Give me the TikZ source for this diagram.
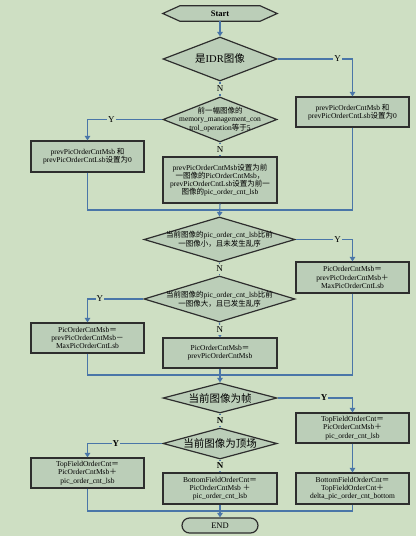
\documentclass[tikz,border=0pt]{standalone}
\usepackage{fontspec}
\setmainfont{Liberation Serif}
\newfontfamily\cjk{Noto Sans CJK SC}
\usetikzlibrary{shapes.geometric,shapes.misc,arrows.meta}
\definecolor{bgc}{HTML}{CEDFC3}
\definecolor{fillc}{HTML}{BBCEB8}
\definecolor{linec}{HTML}{4A76A8}
\definecolor{borderc}{HTML}{2E2E2E}
\newcommand{\zh}[1]{{\cjk #1}}
\begin{document}
\begin{tikzpicture}[x=1pt,y=-1pt,
 box/.style={draw=borderc, line width=1.2pt, fill=fillc, minimum width=113pt, inner sep=0pt, align=center, font=\fontsize{7.5}{8.2}\selectfont},
 dia/.style={shape=diamond, draw=borderc, line width=1.2pt, fill=fillc, inner sep=0pt},
 dtext/.style={align=center, inner sep=0pt, font=\fontsize{7.5}{7.6}\selectfont},
 conn/.style={draw=linec, line width=1.1pt},
 arr/.style={conn, -{Triangle[width=5.5pt,length=4.5pt]}},
 sarr/.style={conn, -{Triangle[width=4pt,length=3pt]}},
 lab/.style={fill=bgc, inner xsep=1pt, inner ysep=2.5pt, font=\fontsize{9}{9}\selectfont, text=black},
 blab/.style={lab, font=\fontsize{9}{9}\selectfont\bfseries},
]
\fill[bgc] (0,0) rectangle (416,536);
\useasboundingbox (0,0) rectangle (416,536);

% Start
\node[minimum width=114pt, minimum height=15pt, inner sep=0pt] (start) at (220,13.5) {};
\filldraw[draw=borderc, fill=fillc, line width=1.2pt] (start.west) -- ([xshift=17pt]start.north west) -- ([xshift=-17pt]start.north east) -- (start.east) -- ([xshift=-17pt]start.south east) -- ([xshift=17pt]start.south west) -- cycle;
\node[font=\fontsize{8.5}{8.5}\selectfont\bfseries] (startt) at (start) {Start};

% diamonds
\node[dia, minimum width=114pt, minimum height=44pt] (d1) at (220,59) {};
\node[dtext, font=\fontsize{10.5}{10.5}\selectfont] (d1t) at (d1) {\zh{是}IDR\zh{图像}};
\node[dia, minimum width=114pt, minimum height=45pt] (d2) at (220,119.5) {};
\node[dtext] (d2t) at (d2) {\zh{前一幅图像的}\\memory\_management\_con\\trol\_operation\zh{等于}5};
\node[dia, minimum width=151pt, minimum height=45pt] (d3) at (219.5,239.5) {};
\node[dtext] (d3t) at (d3) {\zh{当前图像的}pic\_order\_cnt\_lsb\zh{比前}\\\zh{一图像小，且未发生乱序}};
\node[dia, minimum width=151pt, minimum height=46pt] (d4) at (219.5,299) {};
\node[dtext] (d4t) at (d4) {\zh{当前图像的}pic\_order\_cnt\_lsb\zh{比前}\\\zh{一图像大，且已发生乱序}};
\node[dia, minimum width=114pt, minimum height=30pt] (d5) at (220,398) {};
\node[dtext, font=\fontsize{10.5}{10.5}\selectfont] (d5t) at (d5) {\zh{当前图像为帧}};
\node[dia, minimum width=114pt, minimum height=31pt] (d6) at (220,443.5) {};
\node[dtext, font=\fontsize{10.5}{10.5}\selectfont] (d6t) at (d6) {\zh{当前图像为顶场}};

% boxes
\node[box, minimum height=30pt] (rb1) at (352.5,112) {prevPicOrderCntMsb \zh{和}\\prevPicOrderCntLsb\zh{设置为}0};
\node[box, minimum height=31pt] (lb2) at (87.5,156.5) {prevPicOrderCntMsb \zh{和}\\prevPicOrderCntLsb\zh{设置为}0};
\node[box, minimum height=46pt, minimum width=114pt] (mb2) at (220,180) {prevPicOrderCntMsb\zh{设置为前}\\\zh{一图像的}PicOrderCntMsb\zh{，}\\prevPicOrderCntLsb\zh{设置为前一}\\\zh{图像的}pic\_order\_cnt\_lsb};
\node[box, minimum height=31pt] (rb3) at (352.5,277.5) {PicOrderCntMsb\zh{＝}\\prevPicOrderCntMsb\zh{＋}\\MaxPicOrderCntLsb};
\node[box, minimum height=30pt] (lb4) at (87.5,338) {PicOrderCntMsb\zh{＝}\\prevPicOrderCntMsb\zh{－}\\MaxPicOrderCntLsb};
\node[box, minimum height=30pt, minimum width=114pt] (mb4) at (220,353) {PicOrderCntMsb\zh{＝}\\prevPicOrderCntMsb};
\node[box, minimum height=30pt] (rb5) at (352.5,428) {TopFieldOrderCnt\zh{＝}\\PicOrderCntMsb\zh{＋}\\pic\_order\_cnt\_lsb};
\node[box, minimum height=30pt] (lb6) at (87.5,473) {TopFieldOrderCnt\zh{＝}\\PicOrderCntMsb\zh{＋}\\pic\_order\_cnt\_lsb};
\node[box, minimum height=31pt, minimum width=114pt] (mb6) at (220,488.5) {BottomFieldOrderCnt\zh{＝}\\PicOrderCntMsb \zh{＋}\\pic\_order\_cnt\_lsb};
\node[box, minimum height=31pt] (rb6) at (352.5,488.5) {BottomFieldOrderCnt\zh{＝}\\TopFieldOrderCnt\zh{＋}\\delta\_pic\_order\_cnt\_bottom};

% END
\node[shape=rounded rectangle, draw=borderc, fill=fillc, line width=1.2pt, minimum width=76pt, minimum height=15pt, inner sep=0pt, font=\fontsize{8.5}{8.5}\selectfont] (end) at (220,525.5) {END};

% merge coordinates
\coordinate (m1) at (220,210);
\coordinate (m2) at (220,375);
\coordinate (m3) at (220,511);

% connectors
\draw[arr] (start) -- (d1);
\draw[arr] (d1.east) -| (rb1.north) node[lab, pos=0.4] {Y};
\draw[conn] (d1.south) -- (d2.north) node[lab, midway] {N};
\draw[arr] (d2.west) -| (lb2.north) node[lab, pos=0.34] {Y};
\draw[conn] (d2.south) -- (mb2.north) node[lab, midway] {N};
\draw[conn] (lb2.south) |- (m1);
\draw[conn] (rb1.south) |- (m1);
\draw[arr] (mb2.south) -- (d3.north);
\draw[arr] (d3.east) -| (rb3.north) node[lab, pos=0.37] {Y};
\draw[conn] (d3.south) -- (d4.north) node[lab, midway] {N};
\draw[arr] (d4.west) -| (lb4.north) node[lab, pos=0.39] {Y};
\draw[sarr] (d4.south) -- (mb4.north) node[lab, midway] {N};
\draw[conn] (lb4.south) |- (m2);
\draw[conn] (rb3.south) |- (m2);
\draw[arr] (mb4.south) -- (d5.north);
\draw[arr] (d5.east) -| (rb5.north) node[blab, pos=0.31] {Y};
\draw[conn] (d5.south) -- (d6.north) node[blab, midway] {N};
\draw[arr] (d6.west) -| (lb6.north) node[blab, pos=0.31] {Y};
\draw[sarr] (d6.south) -- (mb6.north) node[blab, midway] {N};
\draw[arr] (rb5.south) -- (rb6.north);
\draw[conn] (lb6.south) |- (m3);
\draw[conn] (rb6.south) |- (m3);
\draw[arr] (mb6.south) -- (end.north);
\end{tikzpicture}
\end{document}
